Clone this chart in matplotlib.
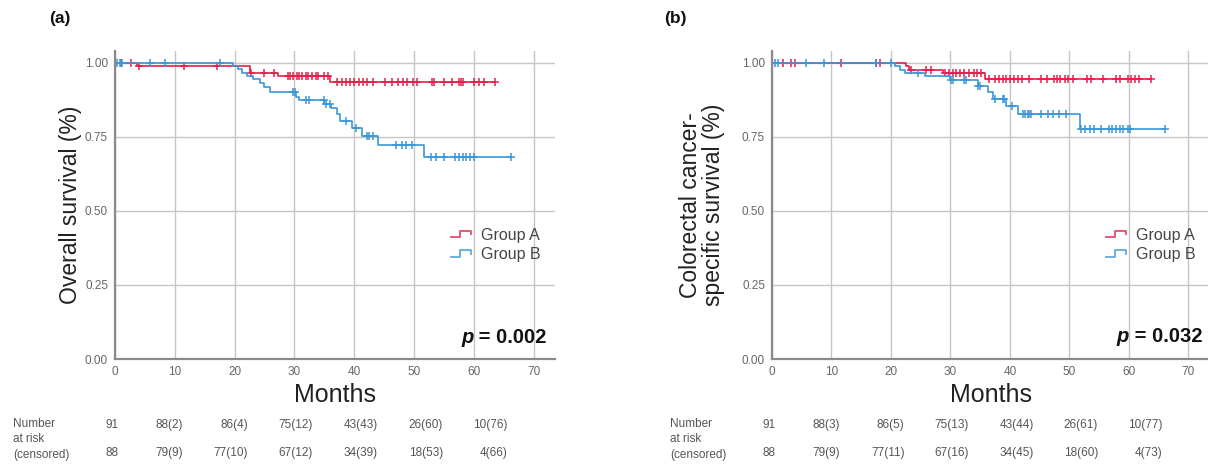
import numpy as np
import matplotlib.pyplot as plt
from matplotlib.lines import Line2D
from matplotlib.legend_handler import HandlerBase
from matplotlib.transforms import blended_transform_factory

plt.rcParams["font.family"] = ["Liberation Sans", "DejaVu Sans"]

RED = "#e5204d"
BLUE = "#3b97d8"

# ---- panel (a): overall survival ----
a_times_A = [3.6, 22.5, 27.2, 36.0]
a_surv_A = [0.989, 0.967, 0.956, 0.935]
a_end_A = 63.6
a_cens_A = [1.0, 2.6, 4.0, 11.6, 17.1, 22.8, 25.0, 26.6, 28.9, 29.3, 29.7, 30.4,
            30.8, 31.3, 31.9, 32.3, 33.0, 33.6, 34.0, 34.9, 35.7, 37.1, 37.9, 38.7,
            39.3, 40.0, 40.8, 41.5, 42.2, 43.2, 45.1, 46.4, 47.3, 48.1, 48.8, 49.8,
            50.5, 53.0, 53.4, 55.0, 56.3, 57.6, 57.9, 58.2, 60.1, 60.8, 61.7]

a_times_B = [19.8, 20.6, 21.3, 22.0, 23.1, 24.2, 25.0, 25.9, 30.2, 30.7, 35.0,
             36.2, 37.1, 37.6, 39.6, 41.3, 44.0, 51.6]
a_surv_B = [0.989, 0.978, 0.967, 0.955, 0.944, 0.932, 0.920, 0.900, 0.886, 0.873,
            0.860, 0.846, 0.826, 0.804, 0.779, 0.753, 0.721, 0.683]
a_end_B = 66.2
a_cens_B = [0.3, 0.8, 1.1, 5.8, 8.4, 17.6, 29.8, 30.1, 32.0, 32.5, 34.9, 35.3,
            35.9, 38.7, 40.3, 42.1, 42.5, 43.2, 47.0, 48.0, 48.6, 49.6, 52.8, 53.7,
            55.0, 56.9, 57.6, 58.2, 58.7, 59.4, 60.0]

# ---- panel (b): colorectal cancer-specific survival ----
b_times_A = [22.6, 23.0, 28.8, 35.9]
b_surv_A = [0.988, 0.977, 0.966, 0.945]
b_end_A = 63.7
b_cens_A = [1.9, 3.2, 3.9, 11.6, 17.5, 18.1, 23.3, 25.9, 26.8, 29.1, 29.7, 30.4,
            31.0, 31.6, 32.3, 33.2, 33.9, 34.5, 35.2, 36.5, 37.5, 38.1, 38.8, 39.4,
            40.1, 40.7, 41.4, 42.0, 43.3, 45.3, 46.2, 47.5, 47.9, 48.5, 49.2, 49.8,
            50.7, 53.0, 53.6, 55.6, 57.9, 58.5, 59.8, 60.4, 61.1, 61.7]

b_times_B = [20.7, 21.5, 22.4, 25.7, 29.9, 34.6, 36.4, 37.2, 39.4, 41.3, 51.8]
b_surv_B = [0.989, 0.977, 0.966, 0.954, 0.941, 0.922, 0.902, 0.878, 0.855, 0.826,
            0.778]
b_end_B = 66.1
b_cens_B = [0.5, 1.0, 5.8, 8.7, 17.5, 20.0, 24.6, 30.1, 30.4, 32.3, 32.6, 34.6,
            35.0, 37.5, 38.8, 39.1, 40.4, 42.3, 42.6, 43.0, 43.3, 43.6, 45.2, 46.5,
            47.2, 48.2, 49.5, 52.0, 52.6, 53.5, 54.2, 55.3, 56.6, 57.2, 57.9, 58.5,
            59.1, 59.8, 60.2]

# numbers at risk (censored)
a_risk_A = ["91", "88(2)", "86(4)", "75(12)", "43(43)", "26(60)", "10(76)"]
a_risk_B = ["88", "79(9)", "77(10)", "67(12)", "34(39)", "18(53)", "4(66)"]
b_risk_A = ["91", "88(3)", "86(5)", "75(13)", "43(44)", "26(61)", "10(77)"]
b_risk_B = ["88", "79(9)", "77(11)", "67(16)", "34(45)", "18(60)", "4(73)"]

x_ticks = [0, 10, 20, 30, 40, 50, 60, 70]
y_ticks = [0.0, 0.25, 0.50, 0.75, 1.00]


class StepHandler(HandlerBase):
    def create_artists(self, legend, orig_handle, xdescent, ydescent,
                       width, height, fontsize, trans):
        xs = np.array([0.0, 0.45, 0.45, 1.0, 1.0]) * width - xdescent
        ys = np.array([0.25, 0.25, 0.8, 0.8, 0.5]) * height - ydescent
        line = Line2D(xs, ys, color=orig_handle.get_color(), lw=1.4, alpha=0.75,
                      transform=trans)
        return [line]


def km_curve(ax, times, surv, end, cens, color):
    xs = [0] + list(times) + [end]
    ys = [1.0] + list(surv) + [surv[-1]]
    ax.step(xs, ys, where="post", color=color, lw=1.2)
    t = np.array(times)
    s = np.concatenate([[1.0], surv])
    cens_x = list(cens) + [end]
    cens_y = s[np.searchsorted(t, cens_x, side="right")]
    ax.plot(cens_x, cens_y, ls="none", marker="+", ms=5.5, mew=1.1, color=color)


def style_axes(ax):
    ax.set_xlim(0, 73.5)
    ax.set_ylim(0, 1.04)
    ax.set_xticks(x_ticks)
    ax.set_yticks(y_ticks)
    ax.set_yticklabels([f"{v:.2f}" for v in y_ticks])
    ax.grid(True, color="#cac5c5", lw=1.0)
    ax.set_axisbelow(True)
    for side in ["top", "right"]:
        ax.spines[side].set_visible(False)
    for side in ["left", "bottom"]:
        ax.spines[side].set_color("#8a8a8a")
        ax.spines[side].set_linewidth(1.6)
    ax.tick_params(length=0, labelsize=8.5, labelcolor="#666666", pad=5)
    ax.set_xlabel("Months", fontsize=18, color="#222222", labelpad=4)


def risk_table(fig, ax, risk_A, risk_B, label_x):
    trans = blended_transform_factory(ax.transData, fig.transFigure)
    for i, (ra, rb) in enumerate(zip(risk_A, risk_B)):
        x = 0.6 + 10.85 * i
        ax.text(x, 1 - 425 / 467, ra, transform=trans, ha="right", va="center",
                fontsize=8.5, color="#555555", clip_on=False)
        ax.text(x, 1 - 453 / 467, rb, transform=trans, ha="right", va="center",
                fontsize=8.5, color="#555555", clip_on=False)
    for txt, y in [("Number", 424), ("at risk", 439), ("(censored)", 455)]:
        fig.text(label_x, 1 - y / 467, txt, ha="left", va="center",
                 fontsize=8.5, color="#555555")


def p_value(ax, x, y, text):
    t = ax.text(x, y, " = " + text, ha="right", va="baseline", fontsize=14.5,
                fontweight="bold", color="#111111")
    ax.annotate("p", xy=(0, 0), xycoords=t, ha="right", va="bottom",
                fontsize=14.5, fontweight="bold", style="italic", color="#111111")


def main():
    fig = plt.figure(figsize=(12.08, 4.67), dpi=100)
    ax_a = fig.add_axes([115 / 1208, 1 - 359 / 467, 439.5 / 1208, 308 / 467])
    ax_b = fig.add_axes([772 / 1208, 1 - 359 / 467, 437 / 1208, 308 / 467])

    km_curve(ax_a, a_times_A, a_surv_A, a_end_A, a_cens_A, RED)
    km_curve(ax_a, a_times_B, a_surv_B, a_end_B, a_cens_B, BLUE)
    km_curve(ax_b, b_times_A, b_surv_A, b_end_A, b_cens_A, RED)
    km_curve(ax_b, b_times_B, b_surv_B, b_end_B, b_cens_B, BLUE)

    for ax in (ax_a, ax_b):
        style_axes(ax)
        handles = [Line2D([], [], color=RED), Line2D([], [], color=BLUE)]
        ax.legend(handles, ["Group A", "Group B"], loc="center left",
                  bbox_to_anchor=(0.765, 0.37), frameon=False, fontsize=11.5,
                  handlelength=1.25, handletextpad=0.6, labelspacing=0.3,
                  borderpad=0, borderaxespad=0, labelcolor="#444444",
                  handler_map={Line2D: StepHandler()})

    ax_a.set_ylabel("Overall survival (%)", fontsize=16.5, color="#222222",
                    labelpad=2)
    ax_b.set_ylabel("Colorectal cancer-\nspecific survival (%)", fontsize=16.5,
                    color="#222222", labelpad=12, linespacing=1.0)

    p_value(ax_a, 72.2, 0.055, "0.002")
    p_value(ax_b, 72.4, 0.058, "0.032")

    risk_table(fig, ax_a, a_risk_A, a_risk_B, 13 / 1208)
    risk_table(fig, ax_b, b_risk_A, b_risk_B, 670 / 1208)

    fig.text(60 / 1208, 1 - 18 / 467, "(a)", ha="center", va="center",
             fontsize=12.5, fontweight="bold", color="#111111")
    fig.text(675 / 1208, 1 - 18 / 467, "(b)", ha="center", va="center",
             fontsize=12.5, fontweight="bold", color="#111111")

    fig.savefig("out.png", dpi=100)


if __name__ == "__main__":
    main()
